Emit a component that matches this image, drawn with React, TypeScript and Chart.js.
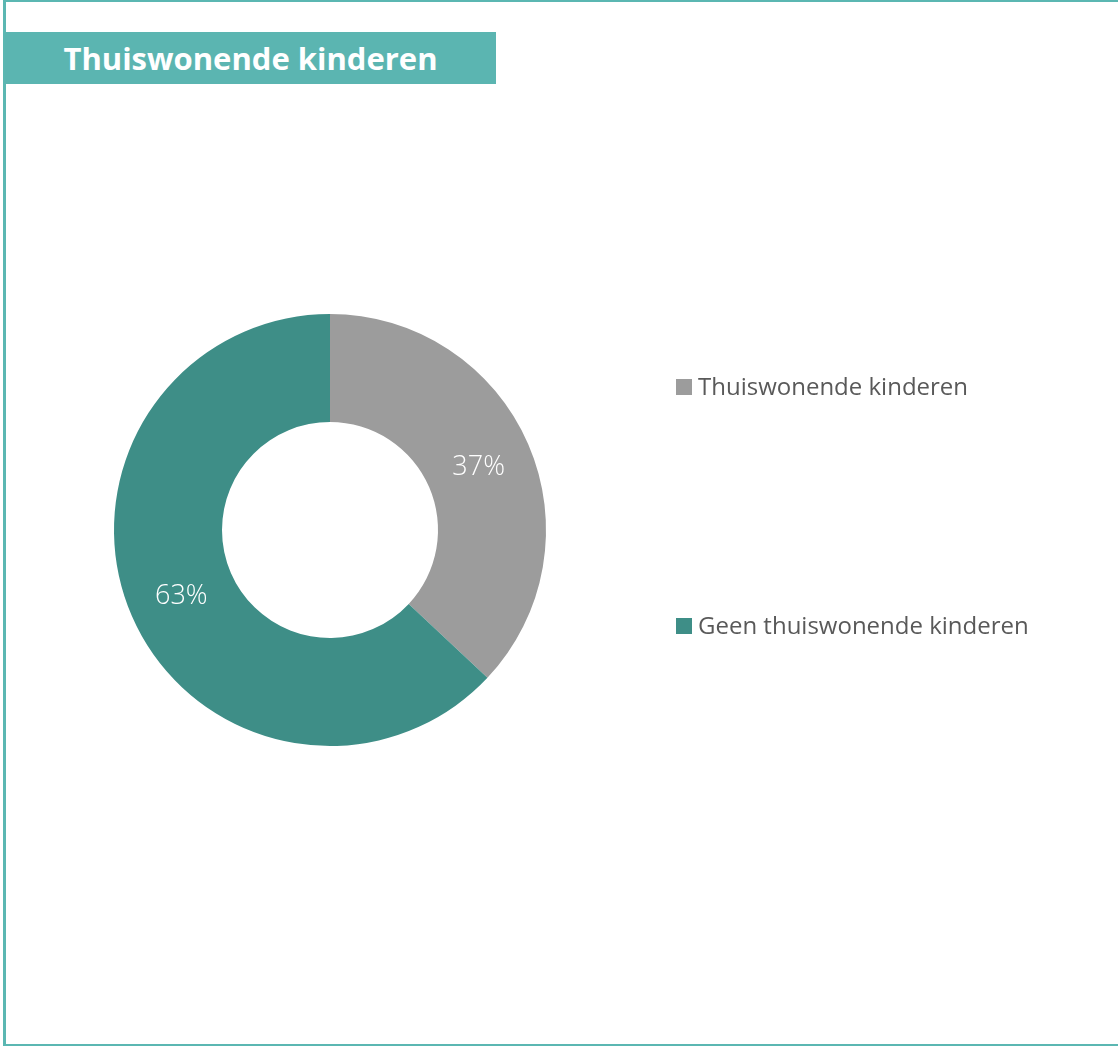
import React, { useEffect, useRef } from "react";
import { Chart, registerables } from "chart.js";

Chart.register(...registerables);

const categories = ["Thuiswonende kinderen", "Geen thuiswonende kinderen"];
const shares = [37, 63];
const sliceColors = ["#9C9C9C", "#3E8E87"];
const titleText = "Thuiswonende kinderen";

const FONT = "'Open Sans', sans-serif";

// Percent labels at the middle of each ring segment
const sliceLabels = {
  id: "sliceLabels",
  afterDatasetsDraw(chart: any) {
    const { ctx } = chart;
    const meta = chart.getDatasetMeta(0);
    ctx.save();
    ctx.fillStyle = "#FFFFFF";
    ctx.font = `300 27px ${FONT}`;
    ctx.textAlign = "center";
    ctx.textBaseline = "middle";
    meta.data.forEach((arc: any, i: number) => {
      const p = arc.tooltipPosition();
      ctx.fillText(`${shares[i]}%`, p.x, p.y + 2);
    });
    ctx.restore();
  },
};

// Legend on the right, one entry per category with a square swatch
const sideLegend = {
  id: "sideLegend",
  afterDraw(chart: any) {
    const { ctx } = chart;
    const rows = [387, 626];
    ctx.save();
    ctx.font = `24px ${FONT}`;
    ctx.textBaseline = "middle";
    ctx.textAlign = "left";
    categories.forEach((label, i) => {
      const y = rows[i];
      ctx.fillStyle = sliceColors[i];
      ctx.fillRect(676, y - 8, 16, 16);
      ctx.fillStyle = "#595959";
      ctx.fillText(label, 698, y + 1);
    });
    ctx.restore();
  },
};

export default function App() {
  const canvasRef = useRef<HTMLCanvasElement | null>(null);

  useEffect(() => {
    if (!canvasRef.current) return;
    const chart = new Chart(canvasRef.current, {
      type: "doughnut",
      data: {
        labels: categories,
        datasets: [
          {
            data: shares,
            backgroundColor: sliceColors,
            borderWidth: 0,
          },
        ],
      },
      options: {
        animation: false,
        responsive: false,
        cutout: "50%",
        layout: { padding: { left: 114, top: 314, right: 572, bottom: 300 } },
        plugins: {
          legend: { display: false },
          tooltip: { enabled: false },
          title: { display: false },
        },
      },
      plugins: [sliceLabels, sideLegend],
    });
    return () => chart.destroy();
  }, []);

  return (
    <div
      style={{
        position: "absolute",
        left: 0,
        top: 0,
        width: 1118,
        height: 1046,
        background: "#FFFFFF",
        overflow: "hidden",
      }}
    >
      <canvas
        ref={canvasRef}
        width={1118}
        height={1046}
        style={{ position: "absolute", left: 0, top: 0, width: 1118, height: 1046 }}
      />
      <div
        style={{
          position: "absolute",
          left: 3,
          top: 0,
          width: 1112,
          height: 1042,
          border: "2px solid #5BB7B2",
          borderLeftWidth: 3,
          boxSizing: "content-box",
          pointerEvents: "none",
        }}
      />
      <div
        style={{
          position: "absolute",
          left: 5,
          top: 32,
          width: 491,
          height: 52,
          background: "#5BB5B1",
          color: "#FFFFFF",
          fontFamily: FONT,
          fontWeight: 700,
          fontSize: 31,
          lineHeight: "52px",
          textAlign: "center",
          whiteSpace: "nowrap",
        }}
      >
        {titleText}
      </div>
    </div>
  );
}
